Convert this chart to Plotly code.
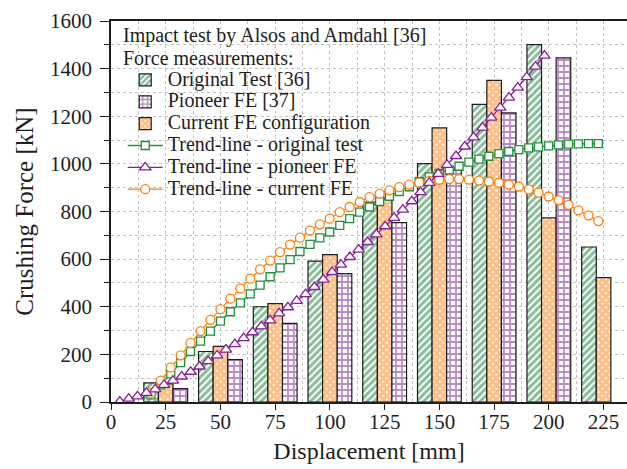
import plotly.graph_objects as go

# ---- bar data: crushing force at each displacement step ----
displacement = [25, 50, 75, 100, 125, 150, 175, 200, 225]
original_test = [80, 212, 400, 592, 840, 1001, 1250, 1501, 651]
current_fe = [76, 234, 413, 619, 855, 1151, 1351, 773, 522]
pioneer_fe = [56, 178, 330, 539, 753, 975, 1214, 1445, None]

# ---- trend-line samples ----
trend_x_test_current = [18.2, 22.7, 27.3, 31.8, 36.3, 40.9, 45.4, 50.0, 54.5, 59.1,
                        63.6, 68.1, 72.7, 77.2, 81.8, 86.3, 90.9, 95.4, 99.9, 104.5,
                        109.0, 113.6, 118.1, 122.7, 127.2, 131.7, 136.3, 140.8, 145.4, 149.9,
                        154.5, 159.0, 163.5, 168.1, 172.6, 177.2, 181.7, 186.3, 190.8, 195.3,
                        199.9, 204.4, 209.0, 213.5, 218.1, 222.6]
trend_original = [30, 72, 118, 165, 212, 256, 298, 340, 379, 416,
                  454, 491, 526, 563, 598, 632, 662, 689, 714, 742,
                  770, 797, 819, 842, 864, 884, 904, 925, 945, 960,
                  975, 990, 1007, 1020, 1032, 1043, 1052, 1060, 1067, 1071,
                  1076, 1080, 1083, 1084, 1085, 1085]
trend_current = [38, 90, 145, 196, 248, 298, 345, 390, 434, 477,
                 518, 557, 594, 629, 661, 690, 720, 746, 770, 797,
                 819, 840, 860, 875, 889, 902, 913, 921, 928, 933,
                 936, 936, 934, 930, 926, 920, 913, 905, 893, 879,
                 863, 847, 828, 805, 784, 760]

trend_x_pioneer = [4.0, 8.1, 12.1, 16.2, 20.2, 24.2, 28.3, 32.3, 36.4, 40.4,
                   44.4, 48.5, 52.5, 56.6, 60.6, 64.6, 68.7, 72.7, 76.8, 80.8,
                   84.8, 88.9, 92.9, 97.0, 101.0, 105.0, 109.1, 113.1, 117.2, 121.2,
                   125.2, 129.3, 133.3, 137.4, 141.4, 145.4, 149.5, 153.5, 157.6, 161.6,
                   165.6, 169.7, 173.7, 177.8, 181.8, 185.8, 189.9, 193.9, 198.0]
trend_pioneer = [2, 14, 24, 38, 53, 72, 90, 107, 127, 149,
                 172, 196, 220, 243, 268, 293, 318, 343, 372, 398,
                 425, 453, 483, 514, 546, 577, 609, 640, 672, 704,
                 738, 773, 808, 843, 881, 920, 958, 996, 1033, 1073,
                 1111, 1152, 1194, 1236, 1278, 1320, 1364, 1408, 1455]

GREEN = "#1f8f3a"
HATCH_GREEN = "#157a33"
PURPLE = "#8a1f9c"
GRID_PURPLE = "#7a168e"
ORANGE = "#ff7f0e"
INK = "#1e1e1e"
GRID = "#c2c2c2"
FONT = "Liberation Serif, Times New Roman, serif"


def label(text):
    return f'<span style="font-size:20px">{text}</span>'


bar_edge = dict(color=INK, width=1.2)

fig = go.Figure()
fig.add_trace(go.Bar(
    x=displacement, y=original_test, name=label("Original Test [36]"), legendrank=1,
    marker=dict(color="white", line=bar_edge,
                pattern=dict(shape="/", fgcolor=HATCH_GREEN, bgcolor="white", size=5, solidity=0.6)),
))
fig.add_trace(go.Bar(
    x=displacement, y=current_fe, name=label("Current FE configuration"), legendrank=3,
    marker=dict(color=ORANGE, line=bar_edge,
                pattern=dict(shape="x", fgcolor=ORANGE, bgcolor="white", size=5, solidity=0.85)),
))
fig.add_trace(go.Bar(
    x=displacement, y=pioneer_fe, name=label("Pioneer FE [37]"), legendrank=2,
    marker=dict(color="white", line=bar_edge,
                pattern=dict(shape="+", fgcolor=GRID_PURPLE, bgcolor="white", size=6, solidity=0.5)),
))

fig.add_trace(go.Scatter(
    x=trend_x_test_current, y=trend_original, mode="lines+markers",
    name=label("Trend-line - original test"), legendrank=4,
    line=dict(color=GREEN, width=1.3),
    marker=dict(symbol="square", size=8, color="white", line=dict(color=GREEN, width=1.3)),
))
fig.add_trace(go.Scatter(
    x=trend_x_test_current, y=trend_current, mode="lines+markers",
    name=label("Trend-line - current FE"), legendrank=6,
    line=dict(color=ORANGE, width=1.3),
    marker=dict(symbol="circle", size=9, color="white", line=dict(color=ORANGE, width=1.3)),
))
fig.add_trace(go.Scatter(
    x=trend_x_pioneer, y=trend_pioneer, mode="lines+markers",
    name=label("Trend-line - pioneer FE"), legendrank=5,
    line=dict(color=PURPLE, width=1.3),
    marker=dict(symbol="triangle-up", size=10, color="white", line=dict(color=PURPLE, width=1.3)),
))

plot_top, plot_bottom = 21, 402
plot_h = plot_bottom - plot_top


def py(pixel_y):
    return (plot_bottom - pixel_y) / plot_h


for text, yc in [("Impact test by Alsos and Amdahl [36]", 35.7), ("Force measurements:", 57.7)]:
    fig.add_annotation(
        text=text, xref="paper", yref="paper", x=0.02, y=py(yc),
        xanchor="left", yanchor="middle", showarrow=False,
        font=dict(family=FONT, size=20, color=INK),
    )

fig.update_layout(
    width=627, height=469,
    margin=dict(l=111, r=0, t=plot_top, b=469 - plot_bottom),
    paper_bgcolor="white", plot_bgcolor="white",
    font=dict(family=FONT, color=INK),
    barmode="group", bargap=0.2, bargroupgap=0,
    showlegend=True,
    legend=dict(
        x=0.0227, y=py(64), xanchor="left", yanchor="top",
        bgcolor="rgba(0,0,0,0)", borderwidth=0,
        font=dict(family=FONT, size=14.5, color=INK),
        itemwidth=35, tracegroupgap=0,
    ),
)

fig.update_xaxes(
    range=[0, 235.7], tick0=0, dtick=25,
    ticks="outside", ticklen=6, tickwidth=1.3, tickcolor=INK,
    tickfont=dict(family=FONT, size=21, color=INK), ticklabelstandoff=-6,
    showline=True, linecolor=INK, linewidth=1.5, mirror=True,
    showgrid=True, gridcolor=GRID, griddash="dot", gridwidth=1,
    minor=dict(dtick=12.5, showgrid=True, gridcolor=GRID, griddash="dot", gridwidth=1),
    zeroline=False,
    title=dict(text="Displacement [mm]", font=dict(family=FONT, size=24, color=INK), standoff=9),
)
fig.update_yaxes(
    range=[0, 1600], tick0=0, dtick=200,
    ticks="outside", ticklen=9, tickwidth=1.3, tickcolor=INK,
    tickfont=dict(family=FONT, size=21, color=INK), ticklabelstandoff=4,
    showline=True, linecolor=INK, linewidth=1.5,
    showgrid=True, gridcolor=GRID, griddash="dot", gridwidth=1,
    minor=dict(dtick=100, ticks="outside", ticklen=5, tickwidth=1.3, tickcolor=INK,
               showgrid=True, gridcolor=GRID, griddash="dot", gridwidth=1),
    zeroline=False,
    title=dict(text="Crushing Force [kN]", font=dict(family=FONT, size=25, color=INK), standoff=9),
)

fig.write_html("out.html")
